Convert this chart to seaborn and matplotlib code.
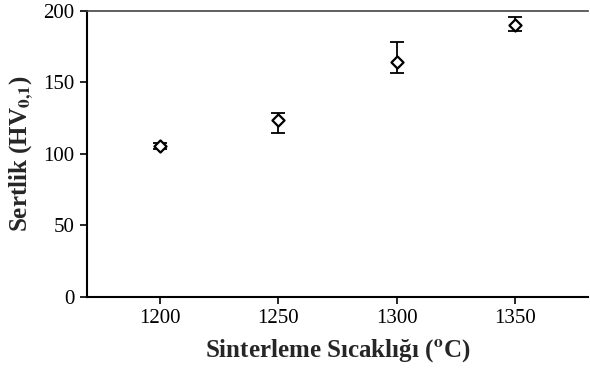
import seaborn as sns
import matplotlib.pyplot as plt
import pandas as pd

temps = [1200, 1250, 1300, 1350]
hardness = [105.5, 124, 164, 190]
err_low = [2, 9.5, 7.5, 4]
err_high = [2, 4.5, 14, 6]

df = pd.DataFrame({'temp': temps, 'hv': hardness})

sns.set_style("ticks")
plt.rcParams['font.family'] = ['Liberation Serif', 'DejaVu Serif']
plt.rcParams['mathtext.fontset'] = 'stix'

fig = plt.figure(figsize=(5.9, 3.74), dpi=100)
ax = fig.add_axes([0.1475, 0.206, 0.849, 0.765])

ax.errorbar(df['temp'], df['hv'], yerr=[err_low, err_high], fmt='none',
            ecolor='black', elinewidth=1.3, capsize=5, capthick=1.3, zorder=2)
sns.scatterplot(data=df, x='temp', y='hv', marker='D', s=38, facecolor='white',
                edgecolor='black', linewidth=1.6, ax=ax, zorder=3)

ax.set_xlim(1169, 1381)
ax.set_ylim(0, 200)
ax.set_xticks(temps)
ax.set_yticks([0, 50, 100, 150, 200])
ax.tick_params(labelsize=15, length=5, width=1.2, colors='black', pad=4)

ax.spines['right'].set_visible(False)
ax.spines['left'].set_linewidth(1.5)
ax.spines['bottom'].set_linewidth(1.5)
ax.spines['top'].set_linewidth(1.2)
ax.spines['top'].set_color('#444444')
for s in ['left', 'bottom']:
    ax.spines[s].set_color('black')

ax.set_xlabel('Sinterleme Sıcaklığı ($\\mathbf{^{o}}$C)', fontsize=18, fontweight='bold', labelpad=6)
ax.set_ylabel('Sertlik (HV$_{\\mathbf{0{,}1}}$)', fontsize=18, fontweight='bold', labelpad=6)

plt.savefig('out.png', dpi=100)
